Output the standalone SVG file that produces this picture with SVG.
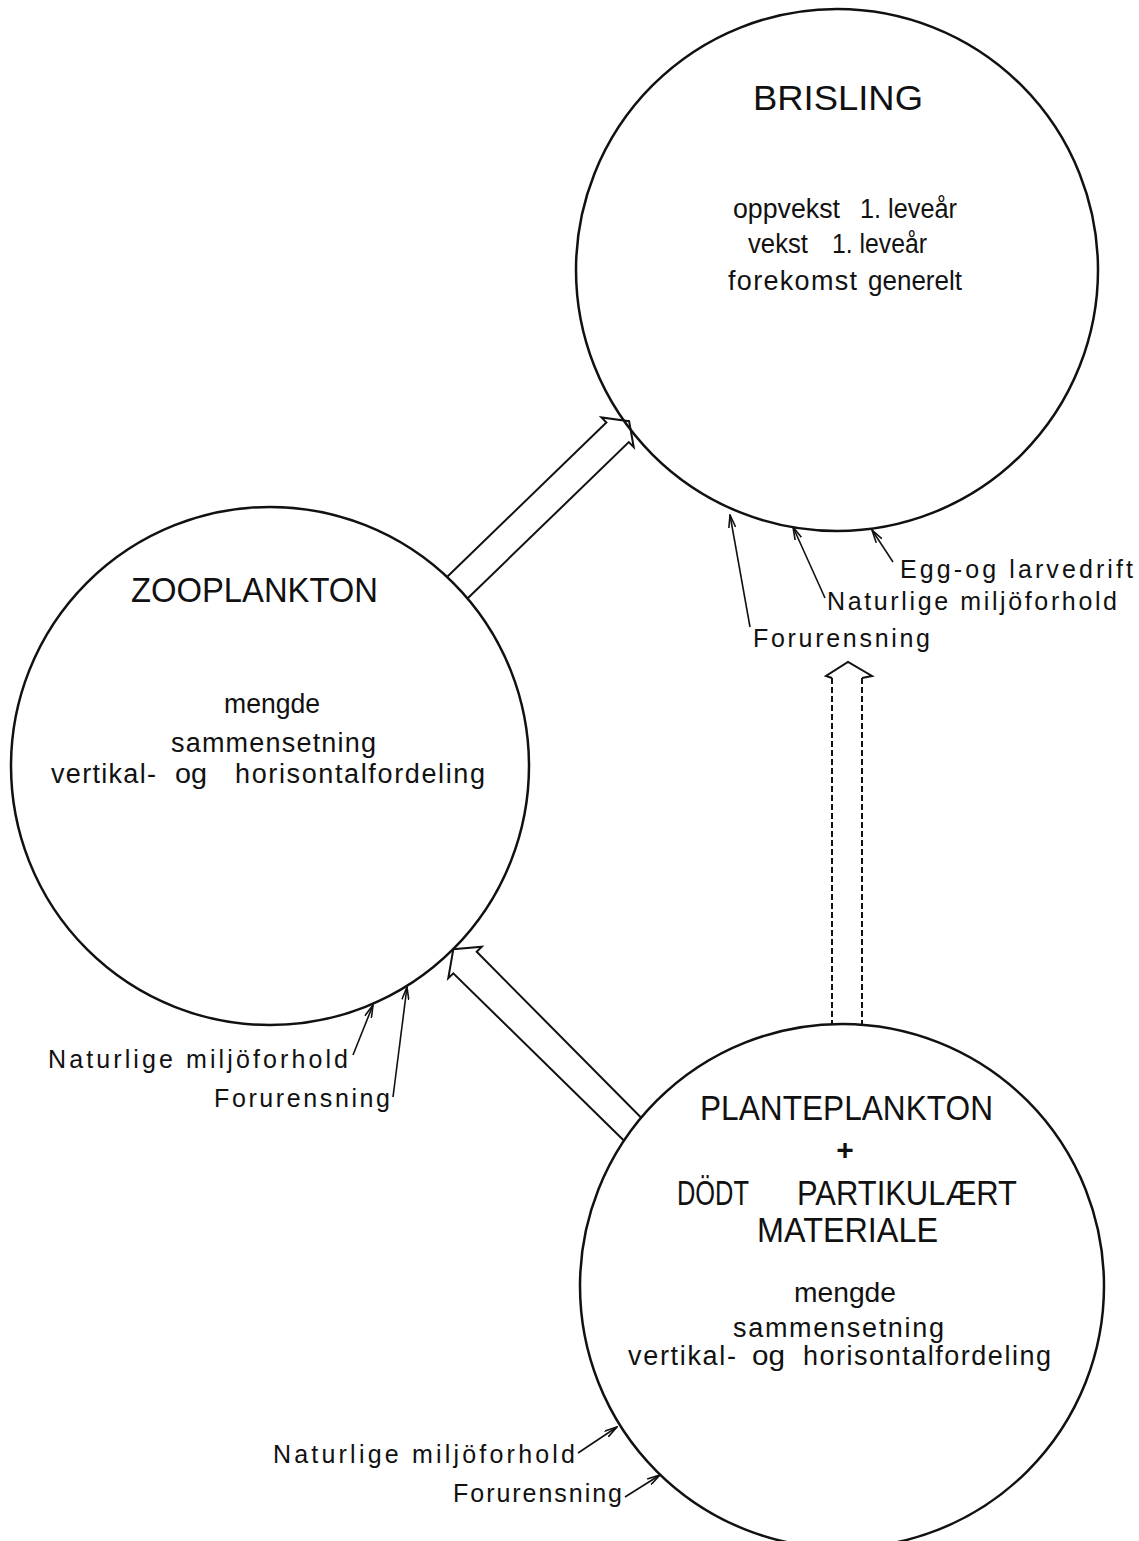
<svg xmlns="http://www.w3.org/2000/svg" width="1139" height="1541" viewBox="0 0 1139 1541">
<defs>
<style>
.c{fill:none;stroke:#111;stroke-width:2.5}
.a{fill:none;stroke:#111;stroke-width:2;stroke-linejoin:miter}
.d{fill:none;stroke:#111;stroke-width:2;stroke-dasharray:6 3}
.s{fill:none;stroke:#111;stroke-width:1.6;marker-end:url(#v)}
text{font-family:"Liberation Sans",Arial,sans-serif;fill:#111}
.t{font-size:35px}
.b{font-size:27px}
.l{font-size:25px}
</style>
<marker id="v" viewBox="0 0 14 8" refX="13" refY="4" markerWidth="14" markerHeight="8" markerUnits="userSpaceOnUse" orient="auto">
<path d="M0,0.5 L13,4 L0,7.5" fill="none" stroke="#111" stroke-width="1.6"/>
</marker>
</defs>
<rect width="1139" height="1541" fill="#fff"/>

<g id="brisling">
<circle class="c" cx="837" cy="270" r="261"/>
<text class="t" x="753" y="110" textLength="170" lengthAdjust="spacingAndGlyphs">BRISLING</text>
<text class="b" y="218"><tspan x="733" textLength="107" lengthAdjust="spacingAndGlyphs">oppvekst</tspan><tspan x="860" textLength="97" lengthAdjust="spacingAndGlyphs">1. leveår</tspan></text>
<text class="b" y="253"><tspan x="748" textLength="60" lengthAdjust="spacingAndGlyphs">vekst</tspan><tspan x="832" textLength="95" lengthAdjust="spacingAndGlyphs">1. leveår</tspan></text>
<text class="b" y="290"><tspan x="728" textLength="129">forekomst</tspan><tspan x="868" textLength="94" lengthAdjust="spacingAndGlyphs">generelt</tspan></text>
</g>

<g id="zooplankton">
<circle class="c" cx="270" cy="766" r="259"/>
<text class="t" x="131" y="602" textLength="247" lengthAdjust="spacingAndGlyphs">ZOOPLANKTON</text>
<text class="b" x="224" y="713" textLength="96" lengthAdjust="spacingAndGlyphs">mengde</text>
<text class="b" x="171" y="752" textLength="205">sammensetning</text>
<text class="b" y="783"><tspan x="51" textLength="105">vertikal-</tspan><tspan x="175" textLength="32" lengthAdjust="spacingAndGlyphs">og</tspan><tspan x="235" textLength="250">horisontalfordeling</tspan></text>
</g>

<g id="planteplankton">
<circle class="c" cx="842" cy="1286" r="262"/>
<text class="t" x="700" y="1120" textLength="293" lengthAdjust="spacingAndGlyphs">PLANTEPLANKTON</text>
<text x="845" y="1160" text-anchor="middle" font-size="30" font-weight="bold">+</text>
<text class="t" y="1205"><tspan x="677" textLength="72" lengthAdjust="spacingAndGlyphs">DÖDT</tspan><tspan x="797" textLength="220" lengthAdjust="spacingAndGlyphs">PARTIKULÆRT</tspan></text>
<text class="t" x="757" y="1242" textLength="181" lengthAdjust="spacingAndGlyphs">MATERIALE</text>
<text class="b" x="794" y="1302" textLength="102" lengthAdjust="spacingAndGlyphs">mengde</text>
<text class="b" x="733" y="1337" textLength="211">sammensetning</text>
<text class="b" y="1365"><tspan x="628" textLength="108">vertikal-</tspan><tspan x="752" textLength="33" lengthAdjust="spacingAndGlyphs">og</tspan><tspan x="803" textLength="248">horisontalfordeling</tspan></text>
</g>

<g id="labels">
<text class="l" x="900" y="578" textLength="233">Egg-og larvedrift</text>
<text class="l" x="827" y="610" textLength="290">Naturlige miljöforhold</text>
<text class="l" x="753" y="647" textLength="177">Forurensning</text>
<text class="l" x="48" y="1068" textLength="300">Naturlige miljöforhold</text>
<text class="l" x="214" y="1107" textLength="176">Forurensning</text>
<text class="l" x="273" y="1463" textLength="302">Naturlige miljöforhold</text>
<text class="l" x="453" y="1502" textLength="169">Forurensning</text>
</g>

<g id="connectors">
<path class="a" d="M447,577 L606.4,422.5 L601.5,417.5 L629.1,421.2 L633.7,447.1 L628.8,442.1 L468,598"/>
<path class="a" d="M641.7,1118.3 L476.7,951.7 L481.7,946.8 L453.3,949.3 L448.3,978.2 L453.3,973.3 L623.3,1140"/>
<path class="d" d="M832,678 L832,1024"/>
<path class="d" d="M862,678 L862,1025"/>
<path class="a" d="M832,678 L826,676 L848,662 L872,676 L862,678"/>
<path class="s" d="M750,627 L730,515"/>
<path class="s" d="M825,598 L793,527"/>
<path class="s" d="M893,562 L872,530"/>
<path class="s" d="M353,1055 L373,1005"/>
<path class="s" d="M393,1097 L407,987"/>
<path class="s" d="M578,1453 L617,1427"/>
<path class="s" d="M625,1497 L660,1475"/>
</g>
</svg>
